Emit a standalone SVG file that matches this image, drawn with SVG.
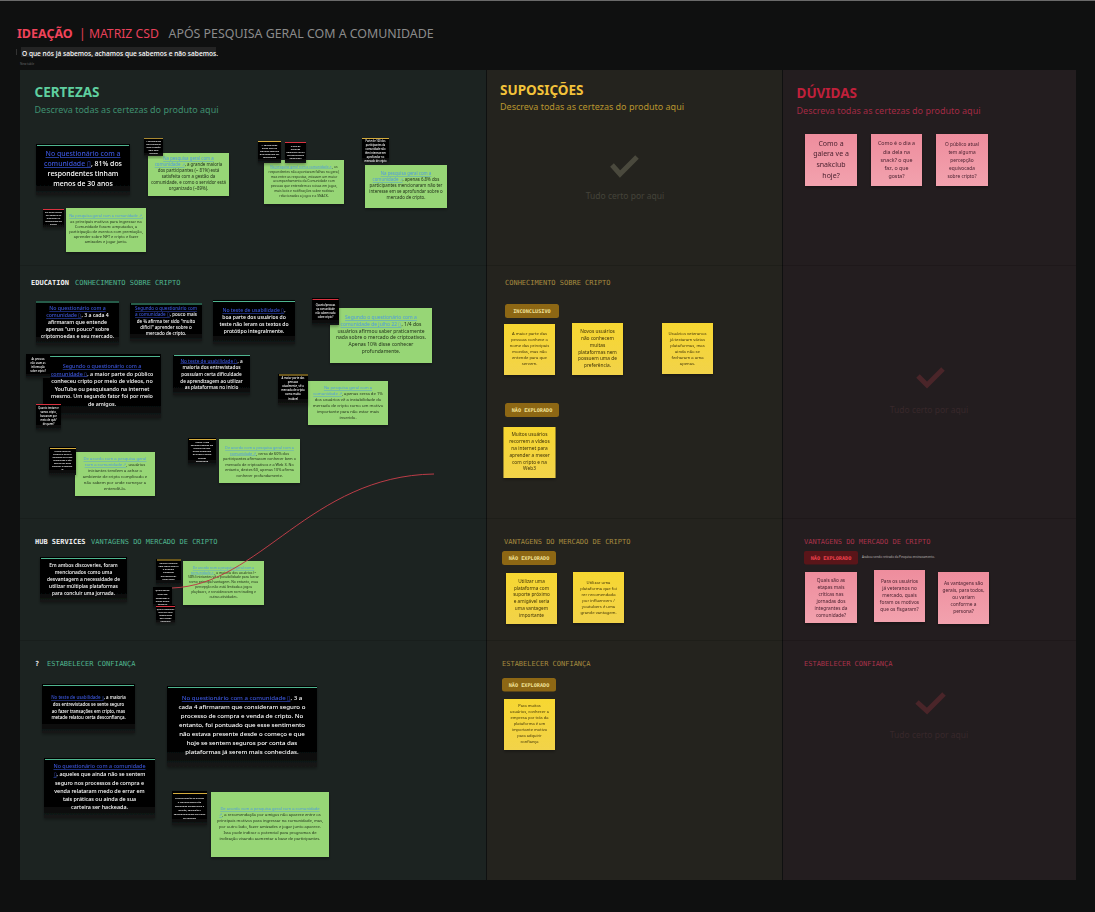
<svg xmlns="http://www.w3.org/2000/svg" width="1095" height="912" viewBox="0 0 1095 912">
<style>
text{font-family:"Noto Sans","Open Sans","Liberation Sans",sans-serif}
.m{text-anchor:middle}
.w{fill:#fff;font-weight:500}
.k{fill:#1f2e18}
.y{fill:#3f3208}
.r{fill:#4b2230}
.l{fill:#3b55d8;text-decoration:underline}
.g .l{fill:#4f9be0}
.mono{font-family:"DejaVu Sans Mono","Liberation Mono",monospace;font-size:7px}
.mono2{font-family:"DejaVu Sans Mono","Liberation Mono",monospace;font-size:7px;font-weight:700;fill:#f0f0f0}
.badge{font-family:"DejaVu Sans Mono","Liberation Mono",monospace;font-size:5.200px;font-weight:700;text-anchor:middle}
.green{fill:#97d676}
.bk{fill:url(#bk)}
.yn{fill:url(#yn)}
.pn{fill:url(#pn)}
.bg{fill:#d4ac3d}.br{fill:#d9323f}.bt{fill:#4fb58f}
.h2{font-size:13.500px;font-weight:700}
.sub{font-size:9px}
.ok{fill:none;stroke-width:5}
.s{filter:url(#sh)}
</style>
<defs>
<linearGradient id="bk" x1="0" y1="0" x2="0" y2="1"><stop offset="0" stop-color="#000"/><stop offset=".8" stop-color="#050505"/><stop offset="1" stop-color="#161a19"/></linearGradient>
<linearGradient id="yn" x1="0" y1="0" x2="0" y2="1"><stop offset="0" stop-color="#f7d731"/><stop offset="1" stop-color="#f2d349"/></linearGradient>
<linearGradient id="pn" x1="0" y1="0" x2="0" y2="1"><stop offset="0" stop-color="#ee8d9d"/><stop offset="1" stop-color="#f2a2ae"/></linearGradient>
<filter id="sh" x="-10%" y="-10%" width="120%" height="125%"><feDropShadow dx="0" dy="1.500" stdDeviation="1.500" flood-color="#000" flood-opacity=".35"/></filter>
</defs>
<rect width="1095" height="912" fill="#0f1010"/>
<rect width="1095" height="1" fill="#6a6a6a"/>
<g id="header">
<text x="17" y="38" font-size="12.500" font-weight="700" fill="#f0435a">IDEAÇÃO</text>
<text x="79" y="38" font-size="12.200" fill="#e8405a">| MATRIZ CSD</text>
<text x="168.500" y="38" font-size="12.400" fill="#8b8b8b">APÓS PESQUISA GERAL COM A COMUNIDADE</text>
<rect x="21" y="47" width="195" height="10" fill="#242424"/>
<rect x="16" y="49" width="1" height="6" fill="#333"/>
<text x="22" y="55.500" font-size="6.600" font-weight="500" fill="#fff">O que nós  já sabemos, achamos que sabemos e não sabemos.</text>
<text x="20" y="65" font-size="3" fill="#666">New table</text>
</g>
<g id="panels">
<rect x="20" y="70" width="466" height="810" fill="#1c2321"/>
<rect x="487" y="70" width="295" height="810" fill="#24231e"/>
<rect x="783" y="70" width="293" height="810" fill="#231d1f"/>
<path d="M20 265.500H1076M20 518.500H1076M20 640.500H1076" stroke="#000" stroke-opacity=".14" fill="none"/>
</g>
<g id="col-certezas">
<text class="h2" x="34.500" y="97" fill="#5fcf9f">CERTEZAS</text>
<text class="sub" x="34.500" y="113" fill="#3f8f70">Descreva todas as certezas do produto aqui</text>
<text class="mono2" x="31" y="285">EDUCATION</text>
<text class="mono" x="75" y="285" fill="#4fb58f">CONHECIMENTO SOBRE CRIPTO</text>
<text class="mono2" x="35" y="543.500">HUB SERVICES</text>
<text class="mono" x="91" y="543.500" fill="#4fb58f">VANTAGENS DO MERCADO DE CRIPTO</text>
<text class="mono2" x="35" y="666">?</text>
<text class="mono" x="47" y="666" fill="#4fb58f">ESTABELECER CONFIANÇA</text>
</g>
<g id="c1" class="s"><rect class="bk" x="36" y="144" width="94" height="51"/><rect class="bt" x="37" y="145" width="92" height="1"/>
<text class="m w" font-size="6.900"><tspan class="l" x="83" y="156">No questionário com a</tspan><tspan x="83" y="166"><tspan class="l">comunidade ▯</tspan>, 81% dos</tspan><tspan x="83" y="176">respondentes tinham</tspan><tspan x="83" y="186">menos de 30 anos</tspan></text></g>
<g id="c2" class="s"><rect class="green" x="148" y="153" width="81" height="43"/>
<text class="m k g" font-size="4.400"><tspan class="l" x="188.500" y="160">Na pesquisa geral com a</tspan><tspan x="188.500" y="166"><tspan class="l">comunidade ↗</tspan>, a grande maioria</tspan><tspan x="188.500" y="172">dos participantes (~ 81%) está</tspan><tspan x="188.500" y="178">satisfeita com a gestão da</tspan><tspan x="188.500" y="184">comunidade, e como o servidor está</tspan><tspan x="188.500" y="190">organizado (~89%).</tspan></text></g>
<g id="c2n" class="s"><rect class="bk" x="144" y="138" width="19" height="18"/><rect class="bg" x="144" y="138" width="19" height=".8"/>
<text class="m w" font-size="2.200"><tspan x="153.500" y="142">A comunidade</tspan><tspan x="153.500" y="145">está satisfeita</tspan><tspan x="153.500" y="148">com a gestão</tspan><tspan x="153.500" y="151">aqui bem</tspan><tspan x="153.500" y="154">avaliada</tspan></text></g>
<g id="c3" class="s"><rect class="green" x="264" y="160" width="80" height="44"/>
<text class="m k g" font-size="3.300"><tspan x="304" y="167.500"><tspan class="l">Na pesquisa geral com a comunidade ↗</tspan>, os</tspan><tspan x="304" y="172.500">respondentes não apontaram falhas no geral,</tspan><tspan x="304" y="177.500">mas entre as respostas, estavam um maior</tspan><tspan x="304" y="182.300">acompanhamento da Comunidade com</tspan><tspan x="304" y="187.300">pessoas que entendem as coisas em jogos,</tspan><tspan x="304" y="191.800">mais bots e notificações sobre notícias</tspan><tspan x="304" y="196.500">relacionadas a jogos e a SNACK.</tspan></text></g>
<g id="c3n1" class="s"><rect class="bk" x="258" y="141" width="23" height="22"/><rect class="bg" x="258" y="141" width="23" height="1"/>
<text class="m w" font-size="2.300"><tspan x="269.500" y="146">A comunidade</tspan><tspan x="269.500" y="149">sente falta de</tspan><tspan x="269.500" y="152">algumas features</tspan><tspan x="269.500" y="155">que poderiam ser</tspan><tspan x="269.500" y="158">melhoradas</tspan></text></g>
<g id="c3n2" class="s"><rect class="bk" x="285" y="142" width="21" height="21"/><rect class="br" x="285" y="142" width="21" height="1"/>
<text class="m w" font-size="2.300"><tspan x="295.500" y="147">O que os</tspan><tspan x="295.500" y="150">usuários</tspan><tspan x="295.500" y="153">gostariam de ter</tspan><tspan x="295.500" y="156">na comunidade</tspan><tspan x="295.500" y="159">Snackclub?</tspan></text></g>
<g id="c4" class="s"><rect class="green" x="365" y="165" width="82" height="43"/>
<text class="m k g" font-size="4.400"><tspan class="l" x="406" y="175">Na pesquisa geral com a</tspan><tspan x="406" y="181"><tspan class="l">comunidade ↗</tspan>, apenas 6.8% dos</tspan><tspan x="406" y="187">participantes mencionaram não ter</tspan><tspan x="406" y="193">interesse em se aprofundar sobre o</tspan><tspan x="406" y="199">mercado de cripto.</tspan></text></g>
<g id="c4n" class="s"><rect class="bk" x="362" y="138" width="27" height="24"/><rect class="bg" x="362" y="138" width="27" height="1"/>
<text class="m w" font-size="2.500"><tspan x="375.500" y="142">Parte de 100 dos</tspan><tspan x="375.500" y="146">participantes da</tspan><tspan x="375.500" y="150">comunidade não</tspan><tspan x="375.500" y="154">têm interesse em</tspan><tspan x="375.500" y="158">aprofundar no</tspan><tspan x="375.500" y="161.500">mercado de cripto</tspan></text></g>
<g id="c5" class="s"><rect class="green" x="66" y="208" width="80" height="44"/>
<text class="m k g" font-size="3.900"><tspan class="l" x="106" y="217">Na pesquisa geral com a comunidade ↗,</tspan><tspan x="106" y="223">as principais motivos para ingressar na</tspan><tspan x="106" y="228">Comunidade foram: amputados, a</tspan><tspan x="106" y="233">participação de eventos com premiação,</tspan><tspan x="106" y="238">aprender sobre NFT e cripto e fazer</tspan><tspan x="106" y="243">amizades e jogar junto.</tspan></text></g>
<g id="c5n" class="s"><rect class="bk" x="43" y="209" width="21" height="19"/><rect class="br" x="43" y="209" width="21" height="1"/>
<text class="m w" font-size="2.200"><tspan x="53.500" y="213">Em quais outras</tspan><tspan x="53.500" y="216">ele gostaria de</tspan><tspan x="53.500" y="219">participar na</tspan><tspan x="53.500" y="222">Comunidade do</tspan><tspan x="53.500" y="225">Snack?</tspan></text></g>
<g id="e1" class="s"><rect class="bk" x="36" y="301" width="83" height="44"/><rect class="bt" x="36" y="301.500" width="83" height="1"/>
<text class="m w" font-size="5.200"><tspan class="l" x="77.500" y="310">No questionário com a</tspan><tspan x="77.500" y="317"><tspan class="l">comunidade ▯</tspan>, 3 a cada 4</tspan><tspan x="77.500" y="324">afirmaram que entende</tspan><tspan x="77.500" y="331">apenas "um pouco" sobre</tspan><tspan x="77.500" y="338">criptomoedas e seu mercado.</tspan></text></g>
<g id="e2" class="s"><rect class="bk" x="130" y="303" width="72" height="38"/><rect class="bt" x="131" y="303.500" width="71" height="1"/>
<text class="m w" font-size="4.500"><tspan class="l" x="166" y="310">Segundo o questionário com</tspan><tspan x="166" y="316"><tspan class="l">a comunidade ▯</tspan>, pouco mais</tspan><tspan x="166" y="323">de ¾ afirma ter sido "muito</tspan><tspan x="166" y="329">difícil" aprender sobre o</tspan><tspan x="166" y="335">mercado de cripto.</tspan></text></g>
<g id="e3" class="s"><rect class="bk" x="213" y="300" width="82" height="44"/><rect class="bt" x="213" y="301" width="82" height="1"/>
<text class="m w" font-size="5.100"><tspan x="254" y="312"><tspan class="l">No teste de usabilidade ▯</tspan>,</tspan><tspan x="254" y="319">boa parte dos usuários do</tspan><tspan x="254" y="326">teste não leram os textos do</tspan><tspan x="254" y="333">protótipo integralmente.</tspan></text></g>
<g id="e4" class="s"><rect class="bk" x="43" y="354" width="118" height="64"/><rect class="bt" x="50" y="356" width="110" height="1"/>
<text class="m w" font-size="5.400"><tspan class="l" x="102" y="368">Segundo o questionário com a</tspan><tspan x="102" y="375.500"><tspan class="l">comunidade ▯</tspan>, a maior parte do público</tspan><tspan x="102" y="383">conheceu cripto por meio de vídeos, no</tspan><tspan x="102" y="391">YouTube ou pesquisando na internet</tspan><tspan x="102" y="398">mesmo. Um segundo fator foi por meio</tspan><tspan x="102" y="406">de amigos.</tspan></text></g>
<g id="e4n1" class="s"><rect class="bk" x="26" y="354" width="24" height="24"/>
<text class="m w" font-size="2.500"><tspan x="38" y="360">As pessoas</tspan><tspan x="38" y="364">não usam as</tspan><tspan x="38" y="368">informação</tspan><tspan x="38" y="372">sobre cripto?</tspan></text></g>
<g id="e4n2" class="s"><rect class="bk" x="36" y="404" width="25" height="26"/><rect class="br" x="36" y="404" width="25" height="1"/>
<text class="m w" font-size="2.500"><tspan x="48.500" y="408.500">Quanto tentam e</tspan><tspan x="48.500" y="412.500">vamos cripto,</tspan><tspan x="48.500" y="416.500">buscaram por</tspan><tspan x="48.500" y="420.500">meio de quê/</tspan><tspan x="48.500" y="424.500">de quem?</tspan></text></g>
<g id="e5" class="s"><rect class="bk" x="173" y="355" width="77" height="40"/><rect class="bt" x="174" y="355" width="76" height="1"/>
<text class="m w" font-size="4.700"><tspan x="211.500" y="362.500"><tspan class="l">No teste de usabilidade ▯</tspan>, a</tspan><tspan x="211.500" y="369">maioria dos entrevistados</tspan><tspan x="211.500" y="376">possuíam certa dificuldade</tspan><tspan x="211.500" y="382.500">de aprendizagem ao utilizar</tspan><tspan x="211.500" y="389">as plataformas no início</tspan></text></g>
<g id="e6" class="s"><rect class="green" x="330" y="308" width="102" height="55"/>
<text class="m k g" font-size="5"><tspan class="l" x="381" y="319">Segundo o questionário com a</tspan><tspan x="381" y="326"><tspan class="l">comunidade de julho 22 ▯</tspan>, 1/4 dos</tspan><tspan x="381" y="332.500">usuários afirmou saber praticamente</tspan><tspan x="381" y="339">nada sobre o mercado de criptoativos.</tspan><tspan x="381" y="346">Apenas 10% disse conhecer</tspan><tspan x="381" y="352.500">profundamente.</tspan></text></g>
<g id="e6n" class="s"><rect class="bk" x="312" y="298" width="27" height="27"/><rect class="br" x="312.500" y="299" width="26" height="1"/>
<text class="m w" font-size="2.500"><tspan x="325.500" y="306">Quanto/pessoas</tspan><tspan x="325.500" y="310">na comunidade</tspan><tspan x="325.500" y="314">não sabem nada</tspan><tspan x="325.500" y="318">sobre cripto?</tspan></text></g>
<g id="e7" class="s"><rect class="green" x="308" y="381" width="80" height="44"/>
<text class="m k g" font-size="4.200"><tspan class="l" x="348" y="389">Na pesquisa geral com a</tspan><tspan x="348" y="395"><tspan class="l">comunidade ↗</tspan>, apenas cerca de 1%</tspan><tspan x="348" y="401">dos usuários vê a instabilidade do</tspan><tspan x="348" y="407">mercado de cripto como um motivo</tspan><tspan x="348" y="412.500">importante para não estar mais</tspan><tspan x="348" y="418.500">inserido.</tspan></text></g>
<g id="e7n" class="s"><rect class="bk" x="278" y="374" width="30" height="31"/><rect class="bg" x="279" y="374.500" width="29" height="1"/>
<text class="m w" font-size="2.700"><tspan x="293" y="379">A maior parte das</tspan><tspan x="293" y="383">pessoas</tspan><tspan x="293" y="387">atualmente, vê o</tspan><tspan x="293" y="391">mercado de cripto</tspan><tspan x="293" y="395">como muito</tspan><tspan x="293" y="400">instável</tspan></text></g>
<g id="e8" class="s"><rect class="green" x="75" y="452" width="80" height="44"/>
<text class="m k g" font-size="4.200"><tspan class="l" x="115" y="460">De acordo com a pesquisa geral</tspan><tspan x="115" y="466"><tspan class="l">com a comunidade ↗</tspan>, usuários</tspan><tspan x="115" y="472">iniciantes tendem a achar o</tspan><tspan x="115" y="478">ambiente de  cripto complicado e</tspan><tspan x="115" y="484">não sabem por onde começar a</tspan><tspan x="115" y="489.500">entendê-lo.</tspan></text></g>
<g id="e8n" class="s"><rect class="bk" x="49" y="447" width="27" height="28"/><rect class="bg" x="50" y="448" width="26" height="1"/>
<text class="m w" font-size="2.200"><tspan x="62.500" y="452">Novos usuários</tspan><tspan x="62.500" y="455">tendem a achar o</tspan><tspan x="62.500" y="458">ambiente de cripto</tspan><tspan x="62.500" y="461">complicado e não</tspan><tspan x="62.500" y="464">sabem por onde</tspan><tspan x="62.500" y="467">começar a entendê-</tspan><tspan x="62.500" y="470">lo</tspan></text></g>
<g id="e9" class="s"><rect class="green" x="219" y="439" width="81" height="44"/>
<text class="m k g" font-size="3.800"><tspan class="l" x="259.500" y="449">De acordo com a pesquisa geral com a</tspan><tspan x="259.500" y="454.500"><tspan class="l">comunidade ↗</tspan>, cerca de 60% dos</tspan><tspan x="259.500" y="460">participantes afirmaram conhecer bem o</tspan><tspan x="259.500" y="465.500">mercado de criptoativos e a Web 3. No</tspan><tspan x="259.500" y="471">entanto, destes 60, apenas 10% afirma</tspan><tspan x="259.500" y="476.500">conhecer profundamente.</tspan></text></g>
<g id="e9n" class="s"><rect class="bk" x="188" y="438" width="28" height="27"/><rect class="bg" x="189" y="439" width="27" height="1"/>
<text class="m w" font-size="2.300"><tspan x="202" y="443">Apesar a isto</tspan><tspan x="202" y="446">espanto pessoas em</tspan><tspan x="202" y="449">público de hoje</tspan><tspan x="202" y="452">muito entendem</tspan><tspan x="202" y="455">de cripto e Web3</tspan><tspan x="202" y="459">quanto</tspan><tspan x="202" y="462">projetando</tspan></text></g>
<g id="h1" class="s"><rect class="bk" x="40" y="557" width="87" height="45"/><rect class="bt" x="41" y="558" width="85" height="1"/>
<text class="m w" font-size="4.900"><tspan x="83.500" y="567">Em ambos discoveries, foram</tspan><tspan x="83.500" y="574">mencionados como uma</tspan><tspan x="83.500" y="581">desvantagem a necessidade de</tspan><tspan x="83.500" y="588">utilizar múltiplas plataformas</tspan><tspan x="83.500" y="595">para concluir uma jornada.</tspan></text></g>
<g id="h2" class="s"><rect class="green" x="183" y="561" width="81" height="44"/>
<text class="m k g" font-size="3.400"><tspan class="l" x="223.500" y="569">De acordo com a pesquisa geral com a</tspan><tspan x="223.500" y="573.700"><tspan class="l">comunidade ↗</tspan>, a maioria dos usuários (~</tspan><tspan x="223.500" y="578.300">58%) iniciantes vê a possibilidade para lucrar</tspan><tspan x="223.500" y="583">como principal vantagem. No entanto, essa</tspan><tspan x="223.500" y="588">percepção não está limitada a jogos</tspan><tspan x="223.500" y="592.700">playbasrs, e consideraram com trading e</tspan><tspan x="223.500" y="597.700">outras atividades.</tspan></text></g>
<g id="h2n1" class="s"><rect class="bk" x="156" y="559" width="25" height="26"/><rect class="bg" x="157" y="559.500" width="24" height="1"/>
<text class="m w" font-size="2.300"><tspan x="168.500" y="564">Surtem dinheiro</tspan><tspan x="168.500" y="567">com jogos Web3 é</tspan><tspan x="168.500" y="570">a principal</tspan><tspan x="168.500" y="573">vantagem</tspan><tspan x="168.500" y="577">percebida por</tspan><tspan x="168.500" y="580">fazer parte</tspan></text></g>
<g id="h2n2" class="s"><rect class="bk" x="153" y="587" width="19" height="21"/>
<text class="m w" font-size="2.300"><tspan x="162.500" y="591">Quais outras</tspan><tspan x="162.500" y="595">além dos</tspan><tspan x="162.500" y="599">apontados a</tspan><tspan x="162.500" y="602">maior nome</tspan><tspan x="162.500" y="605">existem?</tspan></text></g>
<g id="h2n3" class="s"><rect class="bk" x="156" y="605" width="19" height="18"/><rect class="br" x="156" y="606" width="19" height="1"/>
<text class="m w" font-size="2.200"><tspan x="165.500" y="610">Quais vantagens</tspan><tspan x="165.500" y="613">além do lucro</tspan><tspan x="165.500" y="616">importantes</tspan><tspan x="165.500" y="619">para novos</tspan><tspan x="165.500" y="622">usuários?</tspan></text></g>
<g id="t1" class="s"><rect class="bk" x="42" y="684" width="93" height="49"/><rect class="bt" x="43" y="685" width="91" height="1"/>
<text class="m w" font-size="4.400"><tspan x="88.500" y="699"><tspan class="l">No teste de usabilidade ▯</tspan>, a maioria</tspan><tspan x="88.500" y="706">dos entrevistados se sente seguro</tspan><tspan x="88.500" y="712.500">ao fazer transações em cripto, mas</tspan><tspan x="88.500" y="719">metade relatou certa desconfiança.</tspan></text></g>
<g id="t2" class="s"><rect class="bk" x="167" y="686" width="150" height="81"/><rect class="bt" x="168" y="687" width="149" height="1"/>
<text class="m w" font-size="6.100"><tspan x="242" y="700"><tspan class="l">No questionário com a comunidade ▯</tspan>, 3 a</tspan><tspan x="242" y="709">cada 4 afirmaram que consideram seguro o</tspan><tspan x="242" y="718">processo de compra e venda de cripto. No</tspan><tspan x="242" y="727">entanto, foi pontuado que esse sentimento</tspan><tspan x="242" y="736">não estava presente desde o começo e que</tspan><tspan x="242" y="744.500">hoje se sentem seguros por conta das</tspan><tspan x="242" y="753.500">plataformas já serem mais conhecidas.</tspan></text></g>
<g id="t3" class="s"><rect class="bk" x="44" y="758" width="111" height="60"/><rect class="bt" x="45" y="759" width="110" height="1"/>
<text class="m w" font-size="5.400"><tspan class="l" x="99.500" y="768">No questionário com a comunidade</tspan><tspan x="99.500" y="776"><tspan class="l">▯</tspan>, aqueles que ainda não se sentem</tspan><tspan x="99.500" y="785">seguro nos processos de compra e</tspan><tspan x="99.500" y="793">venda relataram medo de errar em</tspan><tspan x="99.500" y="801">tais práticas ou ainda de sua</tspan><tspan x="99.500" y="809">carteira ser hackeada.</tspan></text></g>
<g id="t4" class="s"><rect class="green" x="211" y="792" width="118" height="65"/>
<text class="m k g" font-size="4.100"><tspan class="l" x="270" y="810">De acordo com a pesquisa geral com a comunidade</tspan><tspan x="270" y="816"><tspan class="l">↗</tspan>, a recomendação por amigos não aparece entre os</tspan><tspan x="270" y="821.500">principais motivos para ingressar na comunidade, mas,</tspan><tspan x="270" y="827.500">por outro lado, fazer amizades e jogar junto aparece.</tspan><tspan x="270" y="833.500">Isso pode indicar o potencial para programas de</tspan><tspan x="270" y="839.500">indicação visando aumentar a base de participantes.</tspan></text></g>
<g id="t4n" class="s"><rect class="bk" x="172" y="791" width="35" height="34"/><rect class="bg" x="173" y="793" width="34" height="1"/>
<text class="m w" font-size="2.300"><tspan x="189.500" y="799">Recomendação de amigos</tspan><tspan x="189.500" y="803">e influenciadores são</tspan><tspan x="189.500" y="807">estratégias eficazes para a</tspan><tspan x="189.500" y="811">atração, conversão e</tspan><tspan x="189.500" y="815">comprometimento por parte</tspan><tspan x="189.500" y="819">de usuários</tspan></text></g>
<g id="connectors"><path d="M172 588C260 585 310 476 434 474" fill="none" stroke="#bb3c47" stroke-width="1"/></g>
<g id="col-suposicoes">
<text class="h2" x="500" y="95" fill="#f2c23a">SUPOSIÇÕES</text>
<text class="sub" x="500" y="110" fill="#b8952e">Descreva todas as certezas do produto aqui</text>
<path class="ok" stroke="#4a493d" d="M612 165l8 9 17-17"/>
<text class="m" x="625" y="199" font-size="8.500" fill="#45443a">Tudo certo por aqui</text>
<text class="mono" x="505" y="285" fill="#a58a3e">CONHECIMENTO SOBRE CRIPTO</text>
<text class="mono" x="504" y="543.500" fill="#a58a3e">VANTAGENS DO MERCADO DE CRIPTO</text>
<text class="mono" x="502" y="666" fill="#a58a3e">ESTABELECER CONFIANÇA</text>
</g>
<g id="b1"><rect x="505" y="304" width="54" height="14" rx="2.500" fill="#8d6714"/><text class="badge" x="532" y="313" fill="#f2e39a">INCONCLUSIVO</text></g>
<g id="b2"><rect x="505" y="403" width="54" height="14" rx="2.500" fill="#8d6714"/><text class="badge" x="532" y="412" fill="#f2e39a">NÃO EXPLORADO</text></g>
<g id="b3"><rect x="502" y="551" width="54" height="14" rx="2.500" fill="#8d6714"/><text class="badge" x="529" y="560" fill="#f2e39a">NÃO EXPLORADO</text></g>
<g id="b4"><rect x="502" y="678" width="54" height="13.500" rx="2.500" fill="#8d6714"/><text class="badge" x="529" y="686.500" fill="#f2e39a">NÃO EXPLORADO</text></g>
<g id="y1" class="s"><rect class="yn" x="504" y="324" width="51" height="51"/>
<text class="m y" font-size="4.200"><tspan x="529.500" y="335">A maior parte das</tspan><tspan x="529.500" y="341">pessoas conhece o</tspan><tspan x="529.500" y="347">nome das principais</tspan><tspan x="529.500" y="353">moedas, mas não</tspan><tspan x="529.500" y="359">entende para que</tspan><tspan x="529.500" y="365">servem.</tspan></text></g>
<g id="y2" class="s"><rect class="yn" x="572" y="323" width="51" height="52"/>
<text class="m y" font-size="4.800"><tspan x="597.500" y="333">Novos usuários</tspan><tspan x="597.500" y="340">não conhecem</tspan><tspan x="597.500" y="347">muitas</tspan><tspan x="597.500" y="353.500">plataformas nem</tspan><tspan x="597.500" y="360">possuem uma de</tspan><tspan x="597.500" y="367">preferência.</tspan></text></g>
<g id="y3" class="s"><rect class="yn" x="662" y="323" width="51" height="51"/>
<text class="m y" font-size="4.200"><tspan x="687.500" y="335">Usuários veteranos</tspan><tspan x="687.500" y="341">já testaram várias</tspan><tspan x="687.500" y="347">plataformas, mas</tspan><tspan x="687.500" y="353">ainda não se</tspan><tspan x="687.500" y="359">fecharam a uma</tspan><tspan x="687.500" y="365">apenas.</tspan></text></g>
<g id="y4" class="s"><rect class="yn" x="503.500" y="427" width="52" height="51"/>
<text class="m y" font-size="4.800"><tspan x="529.500" y="436">Muitos usuários</tspan><tspan x="529.500" y="443">recorrem a vídeos</tspan><tspan x="529.500" y="450">na internet para</tspan><tspan x="529.500" y="457">aprender a mexer</tspan><tspan x="529.500" y="463.500">com cripto e na</tspan><tspan x="529.500" y="470">Web3</tspan></text></g>
<g id="y5" class="s"><rect class="yn" x="506" y="573" width="51" height="51"/>
<text class="m y" font-size="4.700"><tspan x="531.500" y="583">Utilizar uma</tspan><tspan x="531.500" y="589.500">plataforma com</tspan><tspan x="531.500" y="596">suporte próximo</tspan><tspan x="531.500" y="603">e amigável seria</tspan><tspan x="531.500" y="610">uma vantagem</tspan><tspan x="531.500" y="616.500">importante</tspan></text></g>
<g id="y6" class="s"><rect class="yn" x="573" y="572" width="51" height="51"/>
<text class="m y" font-size="4.200"><tspan x="598.500" y="584">Utilizar uma</tspan><tspan x="598.500" y="590">plataforma que foi</tspan><tspan x="598.500" y="596">rer recomendada</tspan><tspan x="598.500" y="602">por influencers /</tspan><tspan x="598.500" y="608">youtubers é uma</tspan><tspan x="598.500" y="614">grande vantagem.</tspan></text></g>
<g id="y7" class="s"><rect class="yn" x="504" y="699" width="51" height="51"/>
<text class="m y" font-size="4"><tspan x="529.500" y="707">Para muitos</tspan><tspan x="529.500" y="713">usuários, conhecer a</tspan><tspan x="529.500" y="719">empresa por trás da</tspan><tspan x="529.500" y="725">plataforma é um</tspan><tspan x="529.500" y="731">importante motivo</tspan><tspan x="529.500" y="737">para adquirir</tspan><tspan x="529.500" y="743">confiança</tspan></text></g>
<g id="col-duvidas">
<text class="h2" x="796.500" y="98" fill="#c0203b">DÚVIDAS</text>
<text class="sub" x="796.500" y="114" fill="#a22a44">Descreva todas as certezas do produto aqui</text>
<text class="mono" x="804" y="543.500" fill="#a8324a">VANTAGENS DO MERCADO DE CRIPTO</text>
<text class="mono" x="804" y="666" fill="#a8324a">ESTABELECER CONFIANÇA</text>
<text x="862" y="558" font-size="3" fill="#b9b3b4">Acabou sendo retirado da Pesquisa ensinasamento.</text>
<path class="ok" stroke="#4a2529" d="M918 376l9 9 16-16"/>
<text class="m" x="929" y="413" font-size="8.500" fill="#38282b">Tudo certo por aqui</text>
<path class="ok" stroke="#4a2529" d="M917 702l10 9 17-17"/>
<text class="m" x="929" y="738" font-size="8.500" fill="#38282b">Tudo certo por aqui</text>
</g>
<g id="b5"><rect x="804" y="551" width="54" height="13.500" rx="2" fill="#5a1519"/><text class="badge" x="831" y="559.500" fill="#f0424f">NÃO EXPLORADO</text></g>
<g id="p1" class="s"><rect class="pn" x="805" y="134" width="52" height="52"/>
<text class="m r" font-size="7"><tspan x="831" y="146">Como a</tspan><tspan x="831" y="156">galera ve a</tspan><tspan x="831" y="167">snakclub</tspan><tspan x="831" y="178">hoje?</tspan></text></g>
<g id="p2" class="s"><rect class="pn" x="871" y="134" width="51" height="52"/>
<text class="m r" font-size="5.300"><tspan x="896.500" y="145">Como é o dia a</tspan><tspan x="896.500" y="153.500">dia dela na</tspan><tspan x="896.500" y="161.500">snack? o que</tspan><tspan x="896.500" y="170">faz, o que</tspan><tspan x="896.500" y="178">gosta?</tspan></text></g>
<g id="p3" class="s"><rect class="pn" x="936" y="134" width="52" height="52"/>
<text class="m r" font-size="4.800"><tspan x="962" y="146">O público atual</tspan><tspan x="962" y="154">tem alguma</tspan><tspan x="962" y="161.500">percepção</tspan><tspan x="962" y="169.500">equivocada</tspan><tspan x="962" y="177.500">sobre cripto?</tspan></text></g>
<g id="p4" class="s"><rect class="pn" x="805" y="572" width="52" height="51"/>
<text class="m r" font-size="4.800"><tspan x="831" y="582">Quais são as</tspan><tspan x="831" y="588.500">etapas mais</tspan><tspan x="831" y="595.500">críticas nas</tspan><tspan x="831" y="602.500">jornadas dos</tspan><tspan x="831" y="609.500">integrantes da</tspan><tspan x="831" y="616.500">comunidade?</tspan></text></g>
<g id="p5" class="s"><rect class="pn" x="874" y="570" width="51" height="52"/>
<text class="m r" font-size="4.800"><tspan x="899.500" y="583">Para os usuários</tspan><tspan x="899.500" y="590">já veteranos no</tspan><tspan x="899.500" y="597">mercado, quais</tspan><tspan x="899.500" y="604">foram os motivos</tspan><tspan x="899.500" y="611">que os fisgaram?</tspan></text></g>
<g id="p6" class="s"><rect class="pn" x="938" y="572" width="51" height="52"/>
<text class="m r" font-size="4.800"><tspan x="963.500" y="585">As vantagens são</tspan><tspan x="963.500" y="592">gerais, para todos,</tspan><tspan x="963.500" y="599">ou variam</tspan><tspan x="963.500" y="605.500">conforme a</tspan><tspan x="963.500" y="612.500">persona?</tspan></text></g>
</svg>
